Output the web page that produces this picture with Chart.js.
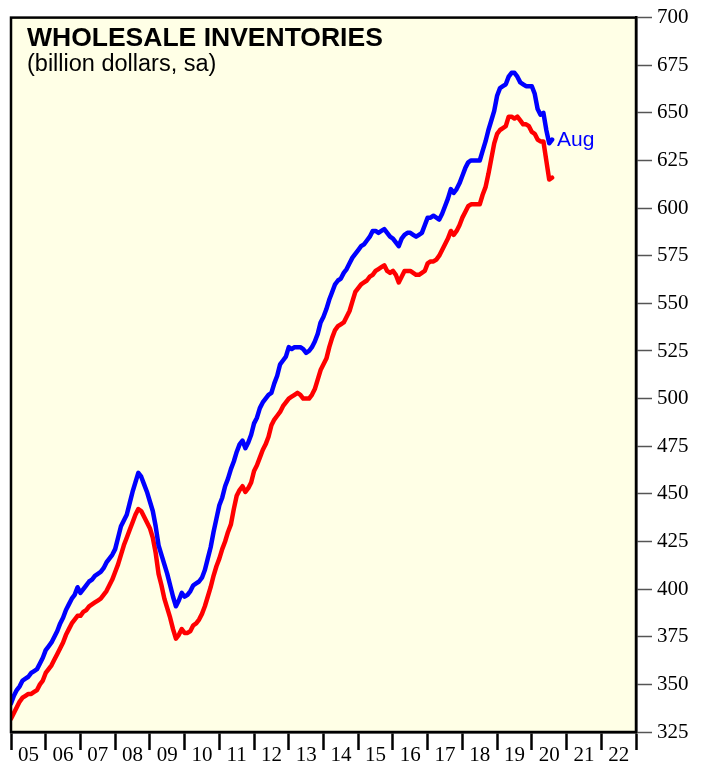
<!DOCTYPE html>
<html>
<head>
<meta charset="utf-8">
<script src="https://cdn.jsdelivr.net/npm/chart.js@4.4.1/dist/chart.umd.min.js"></script>
<style>
  html, body { margin: 0; padding: 0; background: #ffffff; }
  #wrap { width: 706px; height: 767px; }
</style>
</head>
<body>
<div id="wrap"><canvas id="c" width="706" height="767"></canvas></div>
<script>
// ---- DATA (monthly, Jan 2005 .. Aug 2020, billion dollars, sa) ----
const startYear = 2005;
const yearLabels = ["05","06","07","08","09","10","11","12","13","14","15","16","17","18","19","20","21","22"];
const yTicks = [325,350,375,400,425,450,475,500,525,550,575,600,625,650,675,700];

const blueSeries = [
  340,344,347,349,352,353,354,356,357,358,361,364,   // 2005
  368,370,372,375,378,382,385,389,392,395,397,401,   // 2006
  398,400,402,404,405,407,408,409,411,414,416,418,   // 2007
  421,427,433,436,439,445,451,456,461,459,455,451,   // 2008
  446,441,433,423,418,413,408,402,396,391,394,398,   // 2009
  396,397,399,402,403,404,406,410,416,422,430,437,   // 2010
  444,448,454,458,463,467,472,476,478,474,477,481,   // 2011
  487,490,495,498,500,502,503,508,512,518,520,522,   // 2012
  527,526,527,527,527,526,524,525,527,530,534,540,   // 2013
  543,547,552,556,560,562,563,566,568,571,574,576,   // 2014
  578,580,581,583,585,588,588,587,588,589,587,585,   // 2015
  584,582,580,584,586,587,587,586,585,586,587,591,   // 2016
  595,595,596,595,594,597,601,605,610,608,610,613,   // 2017
  617,621,624,625,625,625,625,630,635,641,646,651,   // 2018
  659,663,664,665,669,671,671,669,666,665,664,664,   // 2019
  664,660,652,649,650,641,634,636                    // 2020 (to Aug)
];
const redSeries = [
  332,335,338,341,343,344,345,345,346,347,350,352,   // 2005
  356,358,360,363,366,369,372,376,379,382,384,386,   // 2006
  386,388,389,391,392,393,394,395,397,399,402,405,   // 2007
  409,413,418,423,427,431,435,439,442,441,438,435,   // 2008
  432,427,419,408,402,395,390,385,379,374,376,379,   // 2009
  377,377,378,381,382,384,387,391,396,401,407,412,   // 2010
  416,421,425,430,434,442,449,452,454,451,453,456,   // 2011
  462,465,469,473,476,480,486,489,491,493,496,498,   // 2012
  500,501,502,503,502,500,500,500,502,505,510,515,   // 2013
  518,521,527,532,536,538,539,540,543,546,551,556,   // 2014
  558,560,561,562,564,565,567,568,569,570,567,566,   // 2015
  567,565,561,564,567,567,567,566,565,565,566,567,   // 2016
  571,572,572,573,575,578,581,584,588,586,588,591,   // 2017
  595,598,601,602,602,602,602,607,611,618,626,634,   // 2018
  639,641,642,643,648,648,647,648,646,644,644,643,   // 2019
  640,639,636,635,635,625,615,616                    // 2020 (to Aug)
];
const lastLabel = "Aug";

function toPoints(arr) {
  return arr.map((v, i) => ({ x: startYear + i / 12, y: v }));
}

const serif = "'Liberation Serif', 'Times New Roman', serif";
const sans = "'Liberation Sans', Arial, sans-serif";

const decorPlugin = {
  id: 'decor',
  beforeDraw(chart) {
    const { ctx, chartArea: a } = chart;
    ctx.save();
    ctx.fillStyle = '#ffffff';
    ctx.fillRect(0, 0, chart.width, chart.height);
    ctx.fillStyle = '#FFFFE6';
    ctx.fillRect(a.left, a.top, a.right - a.left, a.bottom - a.top);
    ctx.restore();
  },
  afterDraw(chart) {
    const { ctx, chartArea: a } = chart;
    ctx.save();
    ctx.strokeStyle = '#000';
    ctx.lineWidth = 2.5;
    ctx.strokeRect(a.left, a.top, a.right - a.left, a.bottom - a.top);
    // titles
    ctx.fillStyle = '#000';
    ctx.textBaseline = 'alphabetic';
    ctx.textAlign = 'left';
    ctx.font = 'bold 26.5px ' + sans;
    ctx.fillText('WHOLESALE INVENTORIES', a.left + 16, a.top + 28);
    ctx.font = '23.5px ' + sans;
    ctx.fillText('(billion dollars, sa)', a.left + 16, a.top + 53);
    // end label
    const meta = chart.getDatasetMeta(0);
    const last = meta.data[meta.data.length - 1];
    ctx.fillStyle = '#0000FF';
    ctx.font = '21px ' + sans;
    ctx.textBaseline = 'middle';
    ctx.fillText(lastLabel, last.x + 5, last.y + 1);
    ctx.restore();
  }
};

new Chart(document.getElementById('c'), {
  type: 'line',
  data: {
    datasets: [
      { data: toPoints(blueSeries), borderColor: '#0000FF', borderWidth: 4.5, pointRadius: 0, tension: 0, borderJoinStyle: 'round', borderCapStyle: 'round' },
      { data: toPoints(redSeries), borderColor: '#FF0000', borderWidth: 4.5, pointRadius: 0, tension: 0, borderJoinStyle: 'round', borderCapStyle: 'round' }
    ]
  },
  options: {
    responsive: false,
    animation: false,
    devicePixelRatio: 1,
    layout: { padding: { left: 11, top: 13, right: 0, bottom: 0 } },
    plugins: { legend: { display: false }, tooltip: { enabled: false }, title: { display: false } },
    scales: {
      x: {
        type: 'linear',
        min: 2005, max: 2023,
        afterBuildTicks(scale) {
          scale.ticks = [];
          for (let i = 0; i <= yearLabels.length; i++) scale.ticks.push({ value: startYear + i });
        },
        afterFit(scale) { scale.height = 35; },
        ticks: {
          autoSkip: false, maxRotation: 0, minRotation: 0,
          labelOffset: 17.4,
          padding: -7,
          color: '#000',
          font: { family: serif, size: 21 },
          callback: (v) => { const i = Math.round(v) - startYear; return yearLabels[i] !== undefined ? yearLabels[i] : ''; }
        },
        grid: { drawOnChartArea: false, drawTicks: true, tickLength: 18, tickColor: '#000', tickWidth: 2.5 },
        border: { display: true, color: '#000', width: 2.5 }
      },
      y: {
        position: 'right',
        min: 325, max: 700,
        afterBuildTicks(scale) { scale.ticks = yTicks.map(v => ({ value: v })); },
        afterFit(scale) { scale.width = 70; },
        ticks: { color: '#000', padding: 5, font: { family: serif, size: 21 } },
        grid: { drawOnChartArea: false, drawTicks: true, tickLength: 16, tickColor: '#555', tickWidth: 1.5 },
        border: { display: true, color: '#000', width: 2.5 }
      }
    }
  },
  plugins: [decorPlugin]
});
</script>
</body>
</html>
